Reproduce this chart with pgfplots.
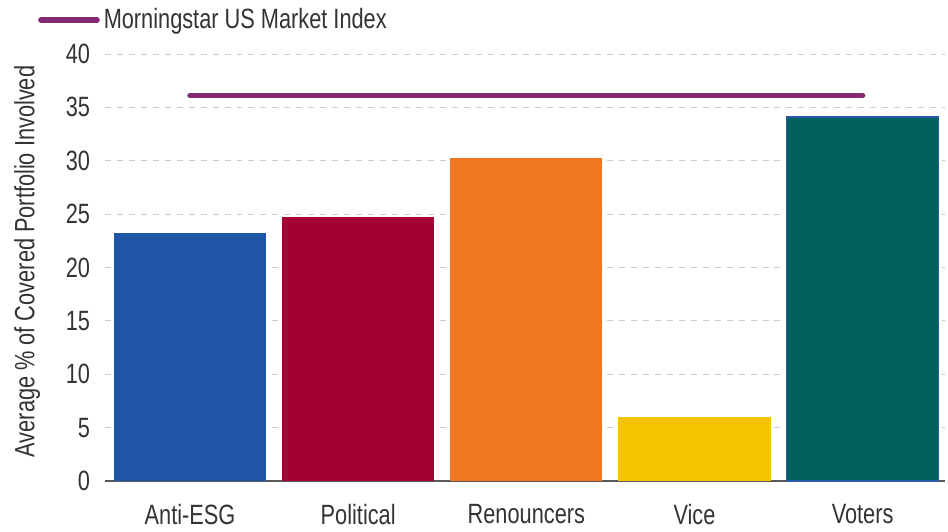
\documentclass[border=0pt]{standalone}
\usepackage{fontspec}
\setmainfont{Liberation Sans}[FakeStretch=0.78]
\usepackage{pgfplots}
\pgfplotsset{compat=1.18}
\definecolor{cAnti}{HTML}{1F55A6}
\definecolor{cPol}{HTML}{A50034}
\definecolor{cRen}{HTML}{EF7722}
\definecolor{cVice}{HTML}{F4C400}
\definecolor{cVot}{HTML}{00605E}
\definecolor{cIdx}{HTML}{832A72}
\definecolor{txt}{HTML}{333333}
\begin{document}
\begin{tikzpicture}
\begin{axis}[
    scale only axis,
    width=420bp, height=213.5bp,
    xmin=-0.506, xmax=4.49,
    ymin=0, ymax=40,
    ytick={0,5,...,40},
    xtick={0,1,2,3,4},
    xticklabels={Anti-ESG,Political,Renouncers,Vice,Voters},
    axis x line=bottom, axis y line=left,
    y axis line style={draw=none},
    x axis line style={draw=black!65, line width=1bp, -},
    major tick length=0pt,
    ymajorgrids=true,
    grid style={dashed, black!20, line width=0.5bp},
    tick label style={font=\fontsize{14}{16}\selectfont, text=txt},
    /pgf/number format/assume math mode=true,
    yticklabel style={xshift=-4bp},
    xticklabel style={yshift=-8bp},
    ylabel={Average \% of Covered Portfolio Involved},
    ylabel style={font=\fontsize{14}{16}\selectfont, text=txt, yshift=6bp,
        at={(ticklabel cs:0.514)}},
    clip=false,
    legend style={at={(rel axis cs:-0.08,1.0796)}, anchor=west, draw=none, fill=none,
        font=\fontsize{14}{16}\selectfont, text=txt, inner sep=0pt,
        /tikz/every even column/.append style={column sep=0pt}},
    legend cell align=left,
    legend image code/.code={\draw[#1, line cap=round] (0bp,0bp) -- (28bp,0bp);},
]
\addplot[ybar, bar width=0.905, bar shift=0pt, fill=cAnti, draw=none, forget plot] coordinates {(0,23.25)};
\addplot[ybar, bar width=0.905, bar shift=0pt, fill=cPol, draw=none, forget plot] coordinates {(1,24.7)};
\addplot[ybar, bar width=0.905, bar shift=0pt, fill=cRen, draw=none, forget plot] coordinates {(2,30.25)};
\addplot[ybar, bar width=0.905, bar shift=0pt, fill=cVice, draw=none, forget plot] coordinates {(3,6.0)};
\addplot[ybar, bar width=0.905, bar shift=0pt, fill=cVot, draw={rgb,255:red,43;green,90;blue,168}, line width=0.8bp, forget plot] coordinates {(4,34.1)};
\addplot[cIdx, line width=2.8bp, line cap=round, mark=none] coordinates {(0,36.1) (4,36.1)};
\addlegendentry{Morningstar US Market Index}
\path (rel axis cs:-0.125,-0.1124) rectangle (rel axis cs:1.0036,1.1265);
\end{axis}
\end{tikzpicture}
\end{document}
